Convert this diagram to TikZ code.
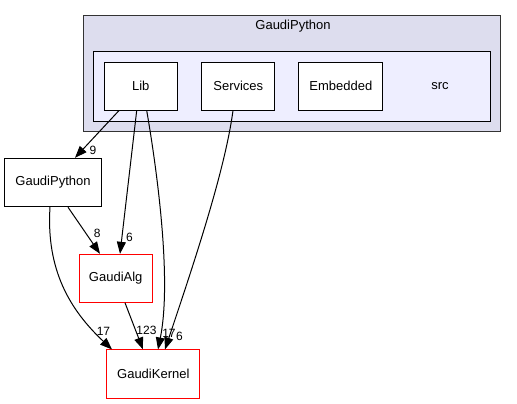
\documentclass[tikz,border=0pt]{standalone}
\usepackage{fontspec}
\setmainfont{Liberation Sans}
\usetikzlibrary{arrows.meta}
\tikzset{
  dirbox/.style={draw=black, fill=white, line width=1pt, minimum height=47.7pt, inner sep=0pt, font=\fontsize{13}{15}\selectfont},
  redbox/.style={dirbox, draw=red},
  dep/.style={draw=black, line width=1pt, -{Triangle[length=12pt,width=9pt]}},
  elab/.style={font=\fontsize{12}{14}\selectfont, inner sep=0pt}
}
\begin{document}
\begin{tikzpicture}[x=1pt,y=-1pt]
\useasboundingbox (0,0) rectangle (517,404);
% clusters
\node[draw=black!80, line width=1pt, minimum width=417.4pt, minimum height=115.7pt, inner sep=0pt, fill={rgb,255:red,221;green,221;blue,238}] (outer) at (291.7,73.5) {};
\node[font=\fontsize{13}{15}\selectfont] (outerlab) at (293,26) {GaudiPython};
\node[draw=black, line width=1pt, minimum width=396.7pt, minimum height=70pt, inner sep=0pt, fill={rgb,255:red,238;green,238;blue,255}] (inner) at (292.3,86.7) {};
\node[font=\fontsize{13}{15}\selectfont] (srclab) at (440,86) {src};
% nodes
\node[dirbox, minimum width=73.3pt] (lib) at (140.7,86.2) {Lib};
\node[dirbox, minimum width=73.3pt] (serv) at (238.3,86.2) {Services};
\node[dirbox, minimum width=83.7pt] (emb) at (340.8,86.2) {Embedded};
\node[dirbox, minimum width=97.4pt, minimum height=48.4pt] (gp) at (53,182.5) {GaudiPython};
\node[redbox, minimum width=73.3pt, minimum height=48pt] (ga) at (115.7,278.3) {GaudiAlg};
\node[redbox, minimum width=93.3pt, minimum height=48.7pt] (gk) at (153.3,374.3) {GaudiKernel};
% edges
\draw[dep] ([xshift=-21.7pt]lib.south) -- ([xshift=22pt]gp.north);
\draw[dep] ([xshift=-4pt]lib.south) -- ([xshift=4.3pt]ga.north);
\draw[dep] ([xshift=6pt]lib.south) .. controls (157,170) and (172,280) .. ([xshift=4.7pt]gk.north);
\draw[dep] ([xshift=-5.3pt]serv.south) .. controls (225,170) and (195,260) .. ([xshift=11.7pt]gk.north);
\draw[dep] ([xshift=15pt]gp.south) -- ([xshift=-15.7pt]ga.north);
\draw[dep] ([xshift=-3pt]gp.south) .. controls (46,270) and (70,310) .. ([xshift=-41.3pt]gk.north);
\draw[dep] ([xshift=9.3pt]ga.south) -- ([xshift=-10.3pt]gk.north);
% labels
\node[elab] (l9) at (93,150) {9};
\node[elab] (l6a) at (129.5,237) {6};
\node[elab] (l8) at (97.3,233.5) {8};
\node[elab] (l17a) at (103.5,331.5) {17};
\node[elab] (l123) at (146.5,330) {123};
\node[elab] (l17b) at (169,333) {17};
\node[elab] (l6b) at (179.5,336) {6};
\end{tikzpicture}
\end{document}
